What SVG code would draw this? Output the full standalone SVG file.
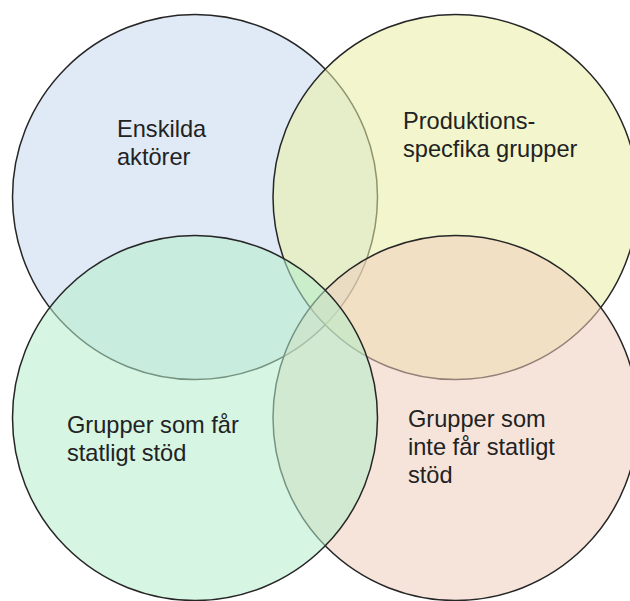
<svg xmlns="http://www.w3.org/2000/svg" width="630" height="601" viewBox="0 0 630 601">
<style>
.c{stroke:#262626;stroke-width:1.5;fill-opacity:0.55}
.t{font-family:"Liberation Sans",Arial,sans-serif;font-size:23.6px;fill:#222}
</style>
<rect width="630" height="601" fill="#fff"/>
<g id="enskilda">
<circle class="c" cx="195" cy="197" r="182.5" fill="#c4d8ef"/>
<text class="t" x="117" y="137">Enskilda</text>
<text class="t" x="117" y="165">aktörer</text>
</g>
<g id="produktion">
<circle class="c" cx="455.5" cy="197" r="182.5" fill="#e9eea4"/>
<text class="t" x="403" y="129">Produktions-</text>
<text class="t" x="403" y="157">specfika grupper</text>
</g>
<g id="inte-statligt">
<circle class="c" cx="455.5" cy="418" r="182.5" fill="#efcdbb"/>
<text class="t" x="408" y="427">Grupper som</text>
<text class="t" x="408" y="455">inte får statligt</text>
<text class="t" x="408" y="483">stöd</text>
</g>
<g id="statligt">
<circle class="c" cx="195" cy="418" r="182.5" fill="#b4ecca"/>
<text class="t" x="67" y="433">Grupper som får</text>
<text class="t" x="67" y="461">statligt stöd</text>
</g>
<g id="connectors"/>
</svg>
